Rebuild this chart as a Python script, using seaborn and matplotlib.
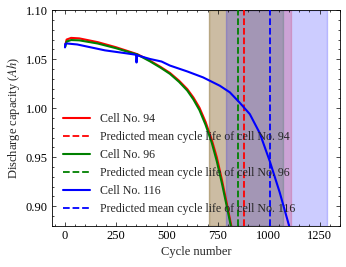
import numpy as np
import pandas as pd
import matplotlib
matplotlib.use("Agg")
import matplotlib.pyplot as plt
import seaborn as sns

# ---- data ----
cyc_94 = [2, 8, 30, 70, 160, 250, 349, 351, 354, 417, 470, 515, 560, 600, 630, 660, 690, 720, 745, 770, 795, 820]
cap_94 = [1.065, 1.0700, 1.0717, 1.0712, 1.0674, 1.0622, 1.0555, 1.0535, 1.0552, 1.0485, 1.0420, 1.0360,
          1.0280, 1.0195, 1.0110, 1.0005, 0.9860, 0.9680, 0.9500, 0.9270, 0.9020, 0.8760]

cyc_96 = [2, 8, 30, 70, 160, 250, 349, 351, 354, 417, 470, 515, 560, 600, 630, 660, 690, 720, 745, 770, 795, 818]
cap_96 = [1.063, 1.0680, 1.0695, 1.0692, 1.0660, 1.0612, 1.0550, 1.0530, 1.0548, 1.0478, 1.0412, 1.0350,
          1.0268, 1.0180, 1.0090, 0.9980, 0.9830, 0.9650, 0.9460, 0.9235, 0.8990, 0.8760]

cyc_116 = [0, 1, 10, 60, 196, 300, 349, 351, 354, 417, 474, 515, 600, 678, 760, 809, 858, 907, 956, 1005, 1054, 1100]
cap_116 = [1.0620, 1.0655, 1.0660, 1.0650, 1.0590, 1.0560, 1.0545, 1.0466, 1.0540, 1.0502, 1.0476, 1.0435,
           1.0375, 1.0314, 1.0229, 1.0162, 1.0055, 0.9940, 0.9745, 0.9460, 0.9140, 0.8800]

mean_life = {"94": 880, "96": 847, "116": 1008}
life_range = {"94": (707, 1108), "96": (707, 1070), "116": (788, 1286)}
colors = {"94": "red", "96": "green", "116": "blue"}

# ---- style ----
sns.set_style("ticks")
plt.rcParams.update({
    "font.family": ["Liberation Serif", "DejaVu Serif"],
    "mathtext.fontset": "stix",
    "font.size": 9,
    "axes.linewidth": 0.6,
    "xtick.direction": "in", "ytick.direction": "in",
    "xtick.top": True, "ytick.right": True,
    "xtick.major.size": 3, "ytick.major.size": 3,
    "xtick.minor.size": 1.5, "ytick.minor.size": 1.5,
    "xtick.major.width": 0.5, "ytick.major.width": 0.5,
    "xtick.minor.width": 0.5, "ytick.minor.width": 0.5,
    "xtick.minor.visible": True, "ytick.minor.visible": True,
    "xtick.minor.top": True, "ytick.minor.right": True,
    "xtick.color": "black", "ytick.color": "black",
    "axes.edgecolor": "black",
})

fig = plt.figure(figsize=(3.46, 2.67), dpi=100)
ax = fig.add_axes([0.150, 0.154, 0.833, 0.808])

series = [("94", cyc_94, cap_94), ("96", cyc_96, cap_96), ("116", cyc_116, cap_116)]

for key, _, _ in series:
    lo, hi = life_range[key]
    ax.axvspan(lo, hi, color=colors[key], alpha=0.2, zorder=0)

for key, cyc, cap in series:
    df = pd.DataFrame({"cycle": cyc, "capacity": cap})
    sns.lineplot(data=df, x="cycle", y="capacity", ax=ax, color=colors[key], lw=1.5,
                 estimator=None, label=f"Cell No. {key}", zorder=3)
    ax.axvline(mean_life[key], color=colors[key], ls="--", lw=1.3,
               label=f"Predicted mean cycle life of cell No. {key}", zorder=3)

ax.set_ylim(0.88, 1.10)
ax.set_xticks([0, 250, 500, 750, 1000, 1250])
ax.set_yticks([0.90, 0.95, 1.00, 1.05, 1.10])
ax.xaxis.set_minor_locator(matplotlib.ticker.MultipleLocator(50))
ax.yaxis.set_minor_locator(matplotlib.ticker.MultipleLocator(0.01))
ax.set_xlabel("Cycle number", fontsize=9, labelpad=3)
ax.set_ylabel(r"Discharge capacity ($Ah$)", fontsize=9, labelpad=3)
ax.tick_params(labelsize=9, pad=3)

ax.legend(loc="lower left", frameon=False, fontsize=8.6, handlelength=2.3)

fig.savefig("out.png", dpi=100)
